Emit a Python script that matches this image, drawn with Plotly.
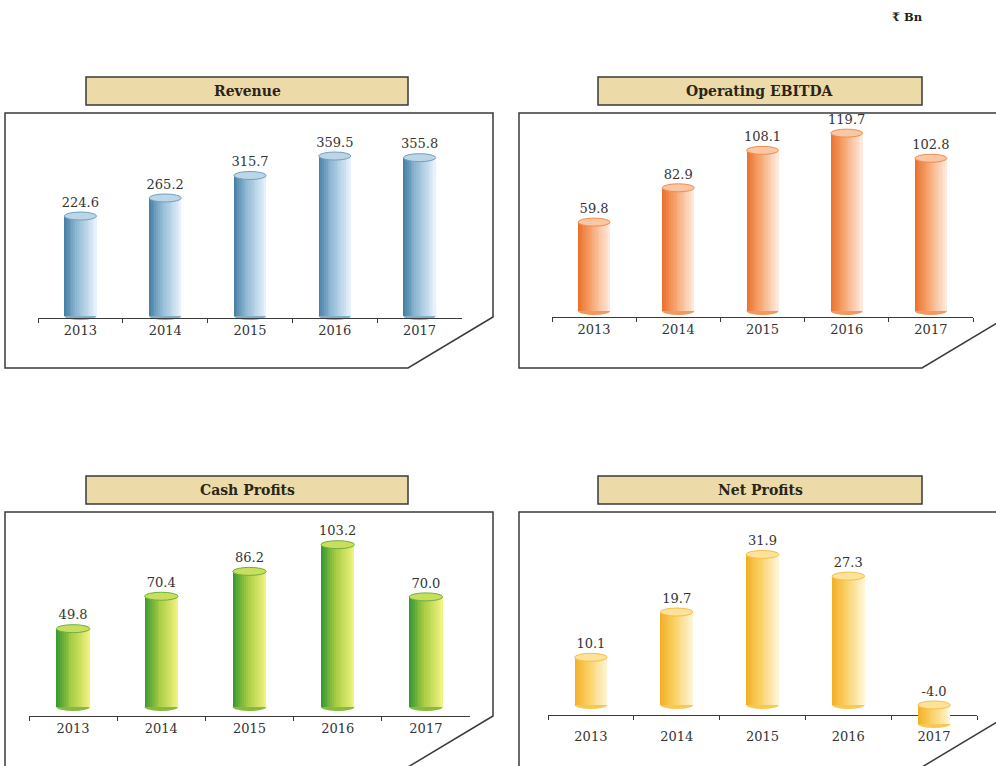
import plotly.graph_objects as go

W, H = 996, 766

# ---------------- data ----------------
years = ["2013", "2014", "2015", "2016", "2017"]
revenue = [224.6, 265.2, 315.7, 359.5, 355.8]
operating_ebitda = [59.8, 82.9, 108.1, 119.7, 102.8]
cash_profits = [49.8, 70.4, 86.2, 103.2, 70.0]
net_profits = [10.1, 19.7, 31.9, 27.3, -4.0]
titles = ["Revenue", "Operating EBITDA", "Cash Profits", "Net Profits"]
unit_label = "₹ Bn"

# ---------------- styling ----------------
SERIF = "DejaVu Serif"
TEXT_COL = "#333333"
FRAME_COL = "#3a3a3a"

grad_blue = [(0.0, "#4a82a4"), (0.35, "#8cb6d2"), (1.0, "#e6f1fb")]
grad_orange = [(0.0, "#ec7230"), (0.4, "#f6a46e"), (1.0, "#feeadc")]
grad_green = [(0.0, "#3b9a33"), (0.45, "#aacd45"), (1.0, "#eff27e")]
grad_yellow = [(0.0, "#f3b128"), (0.4, "#f9cf62"), (1.0, "#fff4d4")]


def hex2rgb(h):
    h = h.lstrip("#")
    return tuple(int(h[i:i + 2], 16) for i in (0, 2, 4))


def grad(stops, t):
    for (t0, c0), (t1, c1) in zip(stops[:-1], stops[1:]):
        if t <= t1:
            f = 0 if t1 == t0 else (t - t0) / (t1 - t0)
            a, b = hex2rgb(c0), hex2rgb(c1)
            return "rgb(%d,%d,%d)" % tuple(round(a[k] + (b[k] - a[k]) * f) for k in range(3))
    return stops[-1][1]


# pixel layout of each panel (positions / calibration only)
panels = [
    dict(values=revenue, title=titles[0], stops=grad_blue, dx=0, dy=0,
         ax0=38, ax1=462, axy=318, zero=316, scale=0.445, dtop=112, dbot=345, standoff=0),
    dict(values=operating_ebitda, title=titles[1], stops=grad_orange, dx=514, dy=0,
         ax0=552, ax1=973, axy=317, zero=311, scale=1.486, dtop=112, dbot=345, standoff=0),
    dict(values=cash_profits, title=titles[2], stops=grad_green, dx=0, dy=399,
         ax0=29, ax1=470, axy=716, zero=707, scale=1.573, dtop=508, dbot=750, standoff=0),
    dict(values=net_profits, title=titles[3], stops=grad_yellow, dx=514, dy=399,
         ax0=548, ax1=977, axy=715, zero=705, scale=4.72, dtop=508, dbot=750, standoff=9),
]

BAR_W = 0.38
N_STRIPES = 18


def px(x):
    return x / W


def py(y):
    return 1 - y / H


fig = go.Figure()
shapes = []
annotations = []
layout_axes = {}

for k, p in enumerate(panels, start=1):
    xa = "x" if k == 1 else f"x{k}"
    ya = "y" if k == 1 else f"y{k}"
    xkey = "xaxis" if k == 1 else f"xaxis{k}"
    ykey = "yaxis" if k == 1 else f"yaxis{k}"
    vals = p["values"]
    stops = p["stops"]

    # striped bars -> horizontal gradient of cylinder body
    step = BAR_W / N_STRIPES
    for j in range(N_STRIPES):
        t = j / (N_STRIPES - 1)
        wdt = step * (1.6 if j < N_STRIPES - 1 else 1.0)
        fig.add_trace(go.Bar(
            x=years, y=vals, xaxis=xa, yaxis=ya,
            width=[wdt] * len(years), offset=-BAR_W / 2 + j * step,
            marker=dict(color=grad(stops, t), line=dict(width=0)),
            hoverinfo="skip", showlegend=False,
        ))

    # cylinder ends
    for i, v in enumerate(vals):
        top = max(v, 0)
        bot = min(v, 0)
        shapes.append(dict(type="circle", xref=xa, yref=ya, layer="below",
                           x0=i - BAR_W / 2, x1=i + BAR_W / 2,
                           ysizemode="pixel", yanchor=bot, y0=-4, y1=4,
                           fillcolor=grad(stops, 0.3), line=dict(width=0)))
        shapes.append(dict(type="circle", xref=xa, yref=ya, layer="above",
                           x0=i - BAR_W / 2, x1=i + BAR_W / 2,
                           ysizemode="pixel", yanchor=top, y0=-4, y1=4,
                           fillcolor=grad(stops, 0.7),
                           line=dict(width=1, color=grad(stops, 0.2))))

    # value labels
    fig.add_trace(go.Scatter(
        x=years, y=[max(v, 0) for v in vals], xaxis=xa, yaxis=ya,
        mode="markers+text", text=[f"{v:.1f}" for v in vals],
        textposition="top center", cliponaxis=False,
        marker=dict(size=8, color="rgba(0,0,0,0)"),
        textfont=dict(family=SERIF, size=13, color=TEXT_COL),
        hoverinfo="skip", showlegend=False,
    ))

    rng_top = (p["zero"] - p["dtop"]) / p["scale"]
    rng_bot = -(p["dbot"] - p["zero"]) / p["scale"]
    layout_axes[xkey] = dict(
        type="category", categoryorder="array", categoryarray=years,
        range=[-0.5, len(years) - 0.5], domain=[px(p["ax0"]), px(p["ax1"])],
        anchor="free", position=py(p["axy"]), layer="below traces",
        showline=True, linecolor=FRAME_COL, linewidth=1.3,
        ticks="outside", tickson="boundaries", ticklen=4, tickcolor=FRAME_COL,
        ticklabelstandoff=p["standoff"],
        tickfont=dict(family=SERIF, size=13, color=TEXT_COL),
        showgrid=False, zeroline=False, fixedrange=True,
    )
    layout_axes[ykey] = dict(
        range=[rng_bot, rng_top], domain=[py(p["dbot"]), py(p["dtop"])],
        anchor="free", position=0, visible=False, fixedrange=True,
    )

    # panel frame with cut corner
    dx, dy = p["dx"], p["dy"]
    pts = [(5, 113), (493, 113), (493, 317), (408, 368), (5, 368)]
    path = "M " + " L ".join(f"{px(x + dx):.5f},{py(y + dy):.5f}" for x, y in pts) + " Z"
    shapes.append(dict(type="path", xref="paper", yref="paper", path=path,
                       line=dict(color=FRAME_COL, width=1.5), layer="below"))

    # title box
    tx0, tx1, ty0, ty1 = 86 + dx - (2 if dx else 0), 408 + dx, 77 + dy, 105 + dy
    shapes.append(dict(type="rect", xref="paper", yref="paper",
                       x0=px(tx0), x1=px(tx1), y0=py(ty1), y1=py(ty0),
                       fillcolor="#ecdba9", line=dict(color=FRAME_COL, width=1.5),
                       layer="above"))
    annotations.append(dict(xref="paper", yref="paper", x=px((tx0 + tx1) / 2),
                            y=py((ty0 + ty1) / 2), text=p["title"], showarrow=False,
                            xanchor="center", yanchor="middle",
                            font=dict(family=SERIF, size=14, color="#2b2418", weight="bold")))

annotations.append(dict(xref="paper", yref="paper", x=px(907), y=py(17),
                        text=unit_label, showarrow=False, xanchor="center", yanchor="middle",
                        font=dict(family=SERIF, size=11.5, color="#222222", weight="bold")))

fig.update_layout(
    width=W, height=H, margin=dict(l=0, r=0, t=0, b=0),
    paper_bgcolor="white", plot_bgcolor="rgba(0,0,0,0)",
    barmode="overlay", bargap=0, showlegend=False,
    shapes=shapes, annotations=annotations, **layout_axes,
)

fig.write_html("out.html")
